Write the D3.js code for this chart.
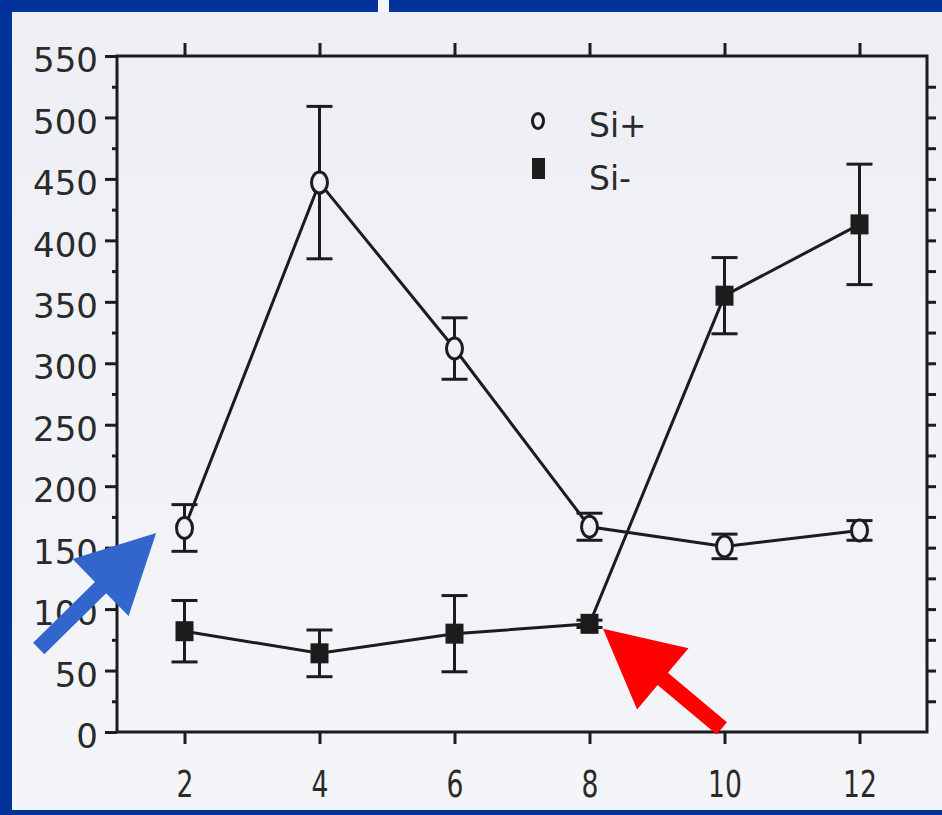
<!DOCTYPE html>
<html>
<head>
<meta charset="utf-8">
<script src="https://cdn.jsdelivr.net/npm/d3@7"></script>
<style>
  html, body { margin: 0; padding: 0; background: #03329a; }
  svg { display: block; }
</style>
</head>
<body>
<div class="chart-container"></div>
<script>
var width = 942, height = 815;

// data
var days = [2, 4, 6, 8, 10, 12];
var siPlus = [166, 447, 312, 167, 151, 164];
var siPlusErr = [19, 62, 25, 11, 10, 8];
var siMinus = [82, 64, 80, 88, 355, 413];
var siMinusErr = [25, 19, 31, 3, 31, 49];
var xTicks = [2, 4, 6, 8, 10, 12];
var yTicks = [0, 50, 100, 150, 200, 250, 300, 350, 400, 450, 500, 550];
var seriesNames = ["Si+", "Si-"];

// annotation arrows, in data units: [tail, tip]
var blueArrow = [[-0.16, 68], [1.58, 162]];
var redArrow = [[9.96, 3], [8.2, 84]];

var paper = "#f0f0f5";
var ink = "#1c1c1c";
var sw = 3;

var svg = d3.select(".chart-container").append("svg").attr("width", width).attr("height", height);

// slide border + scanned page
svg.append("rect").attr("width", width).attr("height", height).style("fill", "#03329a");
var grad = svg.append("defs").append("linearGradient").attr("id", "paperGrad").attr("x1", 0).attr("y1", 0).attr("x2", 0).attr("y2", 1);
grad.append("stop").attr("offset", "0%").attr("stop-color", "#eeeff5");
grad.append("stop").attr("offset", "100%").attr("stop-color", "#f4f5f9");
svg.append("rect").attr("x", 12).attr("y", 12).attr("width", width - 12).attr("height", 798).style("fill", "url(#paperGrad)");
svg.append("rect").attr("x", 378).attr("y", 0).attr("width", 11).attr("height", 12).style("fill", "#f6f6fa");

var x = d3.scaleLinear().domain([1, 13]).range([117, 927]);
var y = d3.scaleLinear().domain([0, 550]).range([732, 56]);

var g = svg.append("g").attr("class", "plot");

// frame
g.append("rect")
  .attr("x", x(1)).attr("y", y(550))
  .attr("width", x(13) - x(1)).attr("height", y(0) - y(550))
  .style("fill", "none").style("stroke", ink).style("stroke-width", sw);

// bottom axis
var bottomAxis = d3.axisBottom(x).tickValues(xTicks).tickSize(12).tickPadding(27).tickFormat(d3.format("d"));
var gb = g.append("g").attr("transform", "translate(0," + y(0) + ")").call(bottomAxis);
gb.select(".domain").remove();
gb.selectAll("line").style("stroke", ink).style("stroke-width", sw);
gb.selectAll("text")
  .attr("transform", "scale(0.72,1)")
  .style("font-family", "'DejaVu Sans', sans-serif")
  .style("font-size", "37px").style("fill", "#2a2a2a");

// top axis, ticks only
var topAxis = d3.axisTop(x).tickValues(xTicks).tickSize(13).tickFormat("");
var gt = g.append("g").attr("transform", "translate(0," + y(550) + ")").call(topAxis);
gt.select(".domain").remove();
gt.selectAll("line").style("stroke", ink).style("stroke-width", sw);

// left axis
var leftAxis = d3.axisLeft(y).tickValues(yTicks).tickSize(12).tickPadding(7).tickFormat(d3.format("d"));
var gl = g.append("g").attr("transform", "translate(" + x(1) + ",0)").call(leftAxis);
gl.select(".domain").remove();
gl.selectAll("line").style("stroke", ink).style("stroke-width", sw);
gl.selectAll("text")
  .attr("dy", "0.46em")
  .style("font-family", "'DejaVu Sans', sans-serif")
  .style("font-size", "34px").style("fill", "#2a2a2a");

var minorTicks = d3.range(25, 550, 50);
var gm = g.append("g").attr("transform", "translate(" + x(1) + ",0)")
  .call(d3.axisLeft(y).tickValues(minorTicks).tickSize(5).tickFormat(""));
gm.select(".domain").remove();
gm.selectAll("line").style("stroke", ink).style("stroke-width", sw);

// right axis, ticks every 25
var gr = g.append("g").attr("transform", "translate(" + x(13) + ",0)")
  .call(d3.axisRight(y).tickValues(d3.range(25, 550, 25)).tickSize(9).tickFormat(""));
gr.select(".domain").remove();
gr.selectAll("line").style("stroke", ink).style("stroke-width", sw);

// series
var plusData = days.map(function(d, i) { return {x: d, v: siPlus[i], e: siPlusErr[i]}; });
var minusData = days.map(function(d, i) { return {x: d, v: siMinus[i], e: siMinusErr[i]}; });

var line = d3.line().x(function(d) { return x(d.x); }).y(function(d) { return y(d.v); });

function errorBars(data) {
  var eb = g.append("g").attr("class", "errbars");
  eb.selectAll(".stem").data(data).enter().append("line")
    .attr("x1", function(d) { return x(d.x); }).attr("x2", function(d) { return x(d.x); })
    .attr("y1", function(d) { return y(d.v + d.e); }).attr("y2", function(d) { return y(d.v - d.e); })
    .style("stroke", ink).style("stroke-width", sw);
  [1, -1].forEach(function(s) {
    eb.selectAll(".cap" + s).data(data).enter().append("line")
      .attr("x1", function(d) { return x(d.x) - 13; }).attr("x2", function(d) { return x(d.x) + 13; })
      .attr("y1", function(d) { return y(d.v + s * d.e); }).attr("y2", function(d) { return y(d.v + s * d.e); })
      .style("stroke", ink).style("stroke-width", sw);
  });
}

g.append("path").datum(minusData).attr("d", line).style("fill", "none").style("stroke", ink).style("stroke-width", sw);
g.append("path").datum(plusData).attr("d", line).style("fill", "none").style("stroke", ink).style("stroke-width", sw);
errorBars(minusData);
errorBars(plusData);

g.append("g").selectAll("rect").data(minusData).enter().append("rect")
  .attr("x", function(d) { return x(d.x) - 9; }).attr("y", function(d) { return y(d.v) - 10; })
  .attr("width", 18).attr("height", 20)
  .style("fill", ink);

g.append("g").selectAll("ellipse").data(plusData).enter().append("ellipse")
  .attr("cx", function(d) { return x(d.x); }).attr("cy", function(d) { return y(d.v); })
  .attr("rx", 8).attr("ry", 10.5)
  .style("fill", paper).style("stroke", ink).style("stroke-width", sw);

// legend
var legend = g.append("g").attr("class", "legend");
legend.append("ellipse").attr("cx", 538).attr("cy", 121).attr("rx", 5.5).attr("ry", 7.5)
  .style("fill", paper).style("stroke", ink).style("stroke-width", sw);
legend.append("rect").attr("x", 532).attr("y", 158).attr("width", 13).attr("height", 21).style("fill", ink);
legend.selectAll("text").data(seriesNames).enter().append("text")
  .attr("x", 589).attr("y", function(d, i) { return 137 + i * 53; })
  .text(function(d) { return d; })
  .style("font-family", "'DejaVu Sans', sans-serif")
  .style("font-size", "33px").style("fill", "#2a2a2a");

// arrows
function drawArrow(pts, color) {
  var tx = x(pts[0][0]), ty = y(pts[0][1]);
  var px = x(pts[1][0]), py = y(pts[1][1]);
  var len = Math.hypot(px - tx, py - ty);
  var ux = (px - tx) / len, uy = (py - ty) / len;
  var nx = -uy, ny = ux;
  var head = 78, hw = 40, shaft = 8;
  var bx = px - ux * head, by = py - uy * head;
  var poly = [
    [tx + nx * shaft, ty + ny * shaft],
    [bx + nx * shaft, by + ny * shaft],
    [bx + nx * hw, by + ny * hw],
    [px, py],
    [bx - nx * hw, by - ny * hw],
    [bx - nx * shaft, by - ny * shaft],
    [tx - nx * shaft, ty - ny * shaft]
  ];
  svg.append("polygon").attr("points", poly.map(function(p) { return p.join(","); }).join(" ")).style("fill", color);
}
drawArrow(blueArrow, "#3366cc");
drawArrow(redArrow, "#ff0000");
</script>
</body>
</html>
